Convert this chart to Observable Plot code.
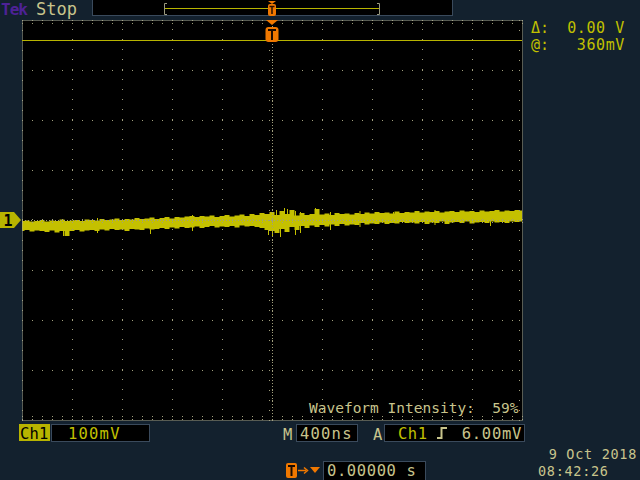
<!DOCTYPE html>
<html>
<head>
<meta charset="utf-8">
<script src="https://cdn.jsdelivr.net/npm/d3@7"></script>
<script src="https://cdn.jsdelivr.net/npm/@observablehq/plot@0.6"></script>
<style>
  html, body { margin: 0; padding: 0; background: #13212e; width: 640px; height: 480px; overflow: hidden; }
  #wrap { position: relative; width: 640px; height: 480px; }
  #chart { position: absolute; left: 0; top: 0; }
  #ui { position: absolute; left: 0; top: 0; pointer-events: none; }
  #ui text { font-family: "DejaVu Sans Mono", monospace; }
</style>
</head>
<body>
<div id="wrap">
  <div id="chart"></div>
  <svg id="ui" width="640" height="480"></svg>
</div>
<script>
// ---- Data (Ch1, 100 mV/div, 400 ns/div) ----
const sampleStartNs = -2000;   // left edge of record
const sampleStepNs = 40;       // one envelope sample every 0.1 div
// upper edge of the noisy trace (mV)
const traceHigh = [
  -2, -1, -3, -2, 0, -3, -1, -2, 1, -2,
  -1, 0, -2, 1, 0, -1, 2, 0, 1, 3,
  0, 2, 1, 4, 2, 3, 5, 2, 4, 6,
  3, 6, 5, 7, 8, 6, 8, 7, 9, 6,
  8, 10, 7, 9, 11, 8, 12, 10, 14, 12,
  16, 10, 18, 12, 20, 9, 14, 10, 12, 22,
  11, 13, 10, 14, 12, 13, 11, 14, 12, 15,
  13, 16, 14, 15, 13, 17, 14, 16, 15, 18,
  15, 17, 16, 18, 15, 17, 18, 16, 19, 17,
  18, 16, 19, 17, 18, 20, 17, 19, 18, 20,
  19
];
// lower edge of the noisy trace (mV)
const traceLow = [
  -22, -20, -23, -21, -22, -24, -21, -25, -22, -32,
  -22, -20, -23, -21, -20, -22, -19, -21, -18, -20,
  -19, -22, -18, -19, -20, -17, -19, -18, -16, -18,
  -15, -17, -14, -16, -15, -13, -16, -14, -12, -15,
  -13, -14, -12, -15, -11, -13, -12, -14, -16, -20,
  -22, -26, -18, -24, -14, -20, -12, -16, -11, -14,
  -10, -13, -9, -12, -8, -11, -9, -10, -6, -9,
  -7, -8, -5, -8, -6, -7, -4, -6, -5, -7,
  -4, -8, -5, -6, -3, -8, -5, -4, -6, -3,
  -7, -5, -4, -6, -3, -5, -4, -6, -3, -4,
  -3
];
// isolated glitches that stick out of the band
const spikeTimeNs = [-1672, -1400, -976, -640, -32, 0, 32, 64, 96, 120, 184, 224, 344, 464, 700, 968, 1300, 1744];
const spikeLow    = [-32, -26, -28, -22, -30, -34, -10, -34, 0, -4, -30, -26, -10, -20, -14, 0, -10, -12];
const spikeHigh   = [-20, 4, -16, 10, -14, 10, 20, 16, 24, 22, 18, 16, 24, 16, 18, 16, 20, 4];

const cursorLevelMv = 360;     // @: 360mV cursor

const trace = traceHigh.map((h, i) => ({t: sampleStartNs + i * sampleStepNs, hi: h, lo: traceLow[i]}));
const spikes = spikeTimeNs.map((t, i) => ({t, lo: spikeLow[i], hi: spikeHigh[i]}));

// graticule positions (divisions)
const majorX = d3.range(-1600, 1601, 400).filter(d => d !== 0);
const majorY = d3.range(-300, 301, 100).filter(d => d !== 0);
const minorX = d3.range(-2000, 2001, 80);
const minorY = d3.range(-400, 401, 20);

const gridColor = "#a09e7c";
const traceColor = "#c4c000";

const chart = Plot.plot({
  width: 640,
  height: 480,
  marginLeft: 22,
  marginRight: 118,
  marginTop: 20,
  marginBottom: 60,
  style: {background: "transparent", overflow: "visible"},
  x: {domain: [-2000, 2000], axis: null},
  y: {domain: [-400, 400], axis: null},
  marks: [
    Plot.frame({fill: "black"}),
    // waveform
    Plot.areaY(trace, {x: "t", y1: "lo", y2: "hi", fill: traceColor, curve: "step"}),
    Plot.ruleX(spikes, {x: "t", y1: "lo", y2: "hi", stroke: traceColor, strokeWidth: 1}),
    // major graticule dots
    Plot.ruleX(majorX, {y1: -400, y2: 400, stroke: gridColor, strokeDasharray: "1,9"}),
    Plot.ruleY(majorY, {x1: -2000, x2: 2000, stroke: gridColor, strokeDasharray: "1,9"}),
    // center axes, finely dotted with minor ticks
    Plot.ruleX([0], {y1: -400, y2: 400, stroke: gridColor, strokeDasharray: "1,2"}),
    Plot.ruleY([0], {x1: -2000, x2: 2000, stroke: gridColor, strokeDasharray: "1,2"}),
    Plot.ruleY(minorY, {x1: -24, x2: 24, stroke: gridColor, strokeDasharray: "1,2"}),
    Plot.ruleX(minorX, {y1: -6, y2: 6, stroke: gridColor, strokeDasharray: "1,2"}),
    // border ticks
    Plot.ruleY(minorY, {x1: -2000, x2: -1976, stroke: gridColor, strokeDasharray: "1,2"}),
    Plot.ruleY(minorY, {x1: 1976, x2: 2000, stroke: gridColor, strokeDasharray: "1,2"}),
    Plot.ruleX(minorX, {y1: 400, y2: 392, stroke: gridColor, strokeDasharray: "1,2"}),
    Plot.ruleX(minorX, {y1: -400, y2: -392, stroke: gridColor, strokeDasharray: "1,2"}),
    Plot.frame({stroke: "#a8a890", strokeDasharray: "1,1"}),
    // cursor line
    Plot.ruleY([cursorLevelMv], {x1: -2000, x2: 2000, stroke: "#b8b400", strokeWidth: 1.2}),
    // text
    Plot.text(["Waveform Intensity:  59%"], {
      frameAnchor: "bottom-right", dx: -4, dy: -8, fill: "#c8c48c",
      fontSize: 14.5, fontFamily: "DejaVu Sans Mono", textAnchor: "end"
    })
  ]
});
document.getElementById("chart").appendChild(chart);

// ---- instrument chrome ----
const ui = d3.select("#ui");
const beige = "#c8c48c", yellow = "#c0c000", orange = "#f07800", boxStroke = "#3a4a5c";
function txt(x, y, s, fill, size, anchor = "start", weight = "normal", ls = 0) {
  ui.append("text").attr("x", x).attr("y", y).attr("fill", fill)
    .attr("font-size", size).attr("text-anchor", anchor).attr("font-weight", weight)
    .attr("letter-spacing", ls).text(s);
}
function box(x, y, w, h, fill = "black") {
  ui.append("rect").attr("x", x + 0.5).attr("y", y + 0.5).attr("width", w).attr("height", h)
    .attr("fill", fill).attr("stroke", boxStroke);
}
// top bar
txt(1, 15, "Tek", "#4e2296", 16, "start", "bold", -1);
txt(36, 15, "Stop", beige, 17);
box(92, -1, 360, 16);
ui.append("path").attr("d", "M167,3.5 H164.5 V14.5 H167 M377,3.5 H379.5 V14.5 H377").attr("fill", "none").attr("stroke", "#9a9a80");
ui.append("line").attr("x1", 165).attr("x2", 379).attr("y1", 8.5).attr("y2", 8.5).attr("stroke", "#b8b400");
ui.append("path").attr("d", "M268,1 H276 L272,4 Z").attr("fill", orange);
ui.append("rect").attr("x", 268).attr("y", 4).attr("width", 8).attr("height", 12).attr("rx", 2).attr("fill", orange);
ui.append("path").attr("d", "M269.5,6.5 H274.5 M272,6.5 V14").attr("stroke", "#2a1000").attr("stroke-width", 1.5);
// trigger marker in graticule
ui.append("path").attr("d", "M266,20 H278 L272,25 Z").attr("fill", orange);
ui.append("rect").attr("x", 265.5).attr("y", 27).attr("width", 13).attr("height", 15).attr("rx", 3).attr("fill", orange);
ui.append("path").attr("d", "M268,30 H276 M272,30 V40").attr("stroke", "#1a0a00").attr("stroke-width", 2);
// channel 1 ground marker
ui.append("path").attr("d", "M0,212 H14 L21,220 L14,228 H0 Z").attr("fill", "#b8b400");
txt(8, 226, "1", "black", 15, "middle", "bold");
// right readouts
txt(531, 33, "Δ:", yellow, 15);
txt(625, 33, "0.00 V", yellow, 15, "end", "normal", 0.6);
txt(531, 50, "@:", yellow, 15);
txt(625, 50, "360mV", yellow, 15, "end", "normal", 0.6);
// bottom status
ui.append("rect").attr("x", 19).attr("y", 424).attr("width", 31).attr("height", 17).attr("fill", "#b8b400");
txt(20, 439, "Ch1", "black", 15.5, "start", "normal", 0.2);
box(51, 424, 98, 17);
txt(68, 439, "100mV", yellow, 15.5, "start", "normal", 1.2);
txt(283, 440, "M", beige, 15.5);
box(296, 424, 61, 17);
txt(300, 439, "400ns", beige, 15.5, "start", "normal", 1.2);
txt(373, 440, "A", beige, 15.5);
box(384, 424, 140, 17);
txt(398, 439, "Ch1", yellow, 15.5, "start", "normal", 0.5);
ui.append("path").attr("d", "M437,438 H441.5 V428 H447").attr("fill", "none").attr("stroke", beige).attr("stroke-width", 2);
txt(522, 439, "6.00mV", beige, 15.5, "end", "normal", 0.7);
txt(637, 459, "9 Oct  2018", beige, 13.5, "end", "normal", 0.7);
txt(538, 476, "08:42:26", beige, 13.5, "start", "normal", 0.7);
ui.append("rect").attr("x", 286).attr("y", 463).attr("width", 11).attr("height", 15).attr("rx", 2).attr("fill", orange);
ui.append("path").attr("d", "M288,466 H295 M291.5,466 V476").attr("stroke", "#1a0a00").attr("stroke-width", 2);
ui.append("path").attr("d", "M298,470.5 H306").attr("stroke", orange).attr("stroke-width", 1.5);
ui.append("path").attr("d", "M304,467.5 L307.5,470.5 L304,473.5").attr("fill", "none").attr("stroke", orange).attr("stroke-width", 1.5);
ui.append("path").attr("d", "M310,467 H320 L315,473 Z").attr("fill", orange);
box(323, 461, 102, 20);
txt(327, 476, "0.00000 s", beige, 15.5, "start", "normal", 0.6);
</script>
</body>
</html>
